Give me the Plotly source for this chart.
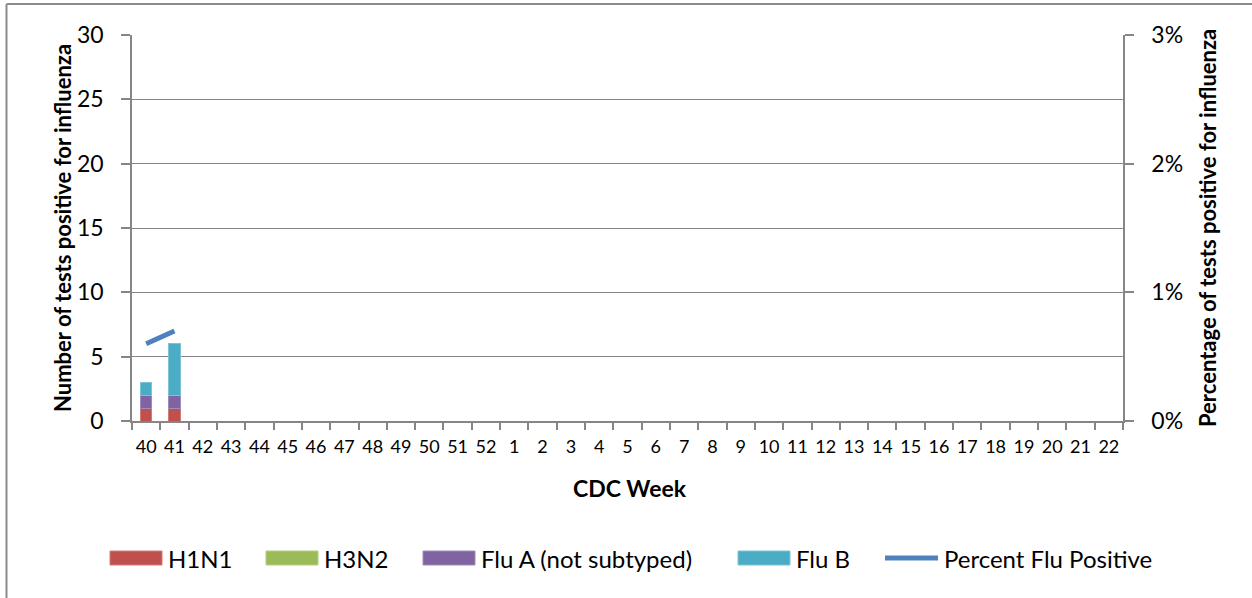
import plotly.graph_objects as go

weeks = [str(w) for w in list(range(40, 53)) + list(range(1, 23))]
h1n1 = [1, 1] + [0] * 33
h3n2 = [0, 0] + [0] * 33
flu_a = [1, 1] + [0] * 33
flu_b = [1, 4] + [0] * 33
pct_pos = [0.006, 0.007] + [None] * 33

W, H = 1252, 598
L, R, T, B = 132, 1123, 35, 421  # plot area in px

def px_x(p):
    return (p - L) / (R - L)

def px_y(p):
    return (B - p) / (B - T)

FONT = "Lato, Carlito, 'Liberation Sans', sans-serif"

fig = go.Figure()
series = [
    ("H1N1", h1n1, "#C0504D", "#D37B78"),
    ("H3N2", h3n2, "#9BBB59", "#B5CE84"),
    ("Flu A (not subtyped)", flu_a, "#8064A2", "#A08BBB"),
    ("Flu B", flu_b, "#4BACC6", "#7CC3D6"),
]
for name, vals, col, edge in series:
    fig.add_trace(go.Bar(
        x=weeks, y=vals, name=name,
        marker=dict(color=col, line=dict(color=edge, width=1)),
        width=0.4,
    ))
line_name, line_col = "Percent Flu Positive", "#4F81BD"
fig.add_trace(go.Scatter(
    x=weeks, y=pct_pos, name=line_name, yaxis="y2",
    mode="lines", line=dict(color=line_col, width=5),
))

grid = "#868686"
fig.update_layout(
    width=W, height=H,
    barmode="stack",
    plot_bgcolor="white", paper_bgcolor="white",
    font=dict(family=FONT, color="black"),
    margin=dict(l=L, r=W - R, t=T, b=H - B, pad=0),
    xaxis=dict(
        type="category", categoryorder="array", categoryarray=weeks,
        showgrid=False, showline=True, linecolor=grid, linewidth=1.5,
        ticks="outside", tickson="boundaries", ticklen=7, tickcolor=grid, tickwidth=1.5,
        tickfont=dict(size=18, family=FONT), tickangle=0, ticklabelstandoff=9,
    ),
    yaxis=dict(
        range=[0, 30], dtick=5, showgrid=True, gridcolor=grid, gridwidth=1.2,
        showline=True, linecolor=grid, linewidth=1.5, zeroline=False,
        ticks="outside", ticklen=9, tickcolor=grid, tickwidth=1.5,
        tickfont=dict(size=23, family=FONT), ticklabelstandoff=13,
    ),
    yaxis2=dict(
        overlaying="y", side="right", range=[0, 0.03], dtick=0.01, tickformat=".0%",
        showgrid=False, showline=True, linecolor=grid, linewidth=1.5, zeroline=False,
        ticks="outside", ticklen=9, tickcolor=grid, tickwidth=1.5,
        tickfont=dict(size=23, family=FONT), ticklabelstandoff=13,
    ),
    showlegend=False,
)

annots = [
    dict(text="<b>Number of tests positive for influenza</b>", x=px_x(62), y=0.5,
         textangle=-90, font=dict(size=22), xanchor="center"),
    dict(text="<b>Percentage of tests positive for influenza</b>", x=px_x(1207), y=0.5,
         textangle=-90, font=dict(size=22), xanchor="center"),
    dict(text="<b>CDC Week</b>", x=px_x(630), y=px_y(488), font=dict(size=23), xanchor="center"),
]

# legend (drawn to match the wide Excel-style swatches)
leg_y = 558
swatch_left = [110, 266, 423, 738]
for (name, _, col, edge), x0 in zip(series, swatch_left):
    fig.add_shape(type="rect", xref="paper", yref="paper",
                  x0=px_x(x0), x1=px_x(x0 + 52), y0=px_y(leg_y - 7), y1=px_y(leg_y + 7),
                  fillcolor=col, line=dict(color=edge, width=1))
    annots.append(dict(text=name, x=px_x(x0 + 56), y=px_y(leg_y), font=dict(size=24),
                       xanchor="left"))
fig.add_shape(type="line", xref="paper", yref="paper",
              x0=px_x(885), x1=px_x(938), y0=px_y(leg_y), y1=px_y(leg_y),
              line=dict(color=line_col, width=5))
annots.append(dict(text=line_name, x=px_x(942), y=px_y(leg_y), font=dict(size=24),
                   xanchor="left"))

for a in annots:
    fig.add_annotation(xref="paper", yref="paper", showarrow=False,
                       yanchor="middle", **a)

# outer chart border (top and left edges visible)
fig.add_shape(type="line", xref="paper", yref="paper",
              x0=px_x(6.5), x1=px_x(1260), y0=px_y(4), y1=px_y(4),
              line=dict(color="#8C8C8C", width=2))
fig.add_shape(type="line", xref="paper", yref="paper",
              x0=px_x(6.5), x1=px_x(6.5), y0=px_y(4), y1=px_y(610),
              line=dict(color="#8C8C8C", width=2))

fig.write_html("out.html", config={"displayModeBar": False},
               post_script="document.body.style.margin='0px';")
